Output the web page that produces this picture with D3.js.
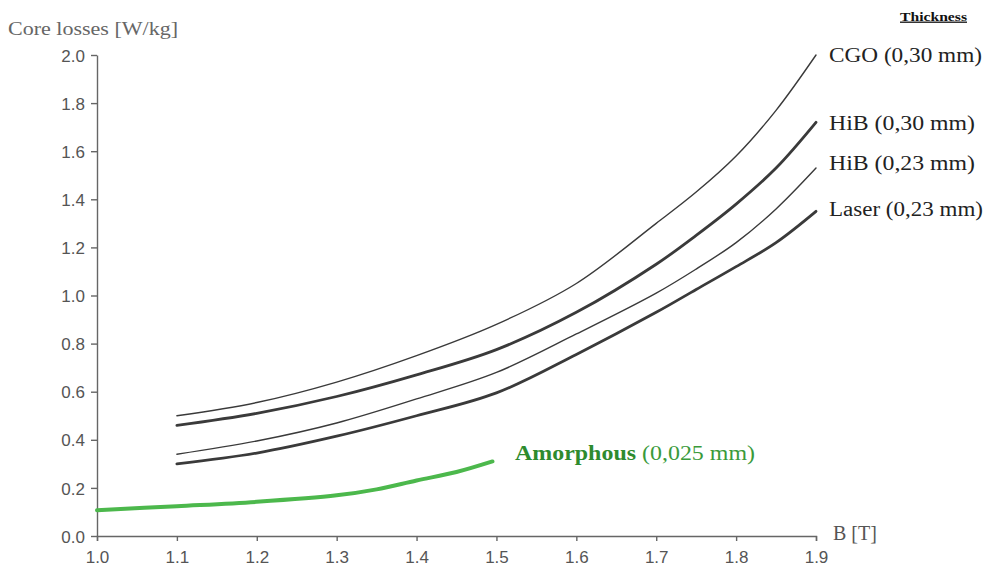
<!DOCTYPE html>
<html>
<head>
<meta charset="utf-8">
<script src="https://cdn.jsdelivr.net/npm/d3@7"></script>
<style>
body { margin: 0; background: #fff; }
svg { display: block; }
.tick text { font-family: 'Liberation Sans', Arial, sans-serif; font-size: 17px; fill: #555; }
.domain, .tick line { stroke: #666; stroke-width: 1.4; }
.serif { font-family: 'Liberation Serif', 'Times New Roman', serif; }
</style>
</head>
<body>
<div id="chart"></div>
<script>
var B = [1.1, 1.2, 1.3, 1.4, 1.5, 1.6, 1.7, 1.75, 1.8, 1.85, 1.9]
var cgo30 = [0.50, 0.555, 0.64, 0.75, 0.88, 1.05, 1.30, 1.43, 1.58, 1.77, 2.0]
var hib30 = [0.46, 0.51, 0.58, 0.67, 0.775, 0.93, 1.13, 1.25, 1.38, 1.53, 1.72]
var hib23 = [0.34, 0.395, 0.47, 0.57, 0.68, 0.84, 1.01, 1.11, 1.22, 1.36, 1.53]
var laser23 = [0.30, 0.345, 0.415, 0.50, 0.595, 0.755, 0.93, 1.025, 1.12, 1.22, 1.35]

var amorphB = [1.0, 1.1, 1.2, 1.3, 1.35, 1.4, 1.45, 1.495]
var amorph = [0.107, 0.124, 0.142, 0.169, 0.194, 0.231, 0.266, 0.31]

var xTicks = [1.0, 1.1, 1.2, 1.3, 1.4, 1.5, 1.6, 1.7, 1.8, 1.9]
var yTicks = [0.0, 0.2, 0.4, 0.6, 0.8, 1.0, 1.2, 1.4, 1.6, 1.8, 2.0]

var series = [
	{name: 'CGO (0,30 mm)',   values: cgo30,   w: 1.4, ly: 55,  len: 153},
	{name: 'HiB (0,30 mm)',   values: hib30,   w: 2.8, ly: 123, len: 146},
	{name: 'HiB (0,23 mm)',   values: hib23,   w: 1.4, ly: 163, len: 146},
	{name: 'Laser (0,23 mm)', values: laser23, w: 2.8, ly: 209, len: 154}
]

var W = 994, H = 579
var x = d3.scaleLinear().domain([1.0, 1.9]).range([97, 816])
var y = d3.scaleLinear().domain([0, 2.0]).range([536, 55])

var svg = d3.select('#chart').append('svg')
	.attr('width', W)
	.attr('height', H)

svg.append('g')
	.attr('transform', 'translate(0,' + y(0) + ')')
	.call(d3.axisBottom(x).tickValues(xTicks).tickFormat(d3.format('.1f'))
		.tickSize(5).tickSizeOuter(5).tickPadding(10))

svg.append('g')
	.attr('transform', 'translate(' + x(1.0) + ',0)')
	.call(d3.axisLeft(y).tickValues(yTicks).tickFormat(d3.format('.1f'))
		.tickSize(6).tickSizeOuter(0).tickPadding(6))
	.selectAll('.tick text').attr('dy', '0.36em')

var line = d3.line().curve(d3.curveCatmullRom.alpha(0.5))

series.forEach((s,i,a)=>{
	svg.append('path')
		.attr('d', line(B.map((b,j)=>[x(b), y(s.values[j])])))
		.attr('fill', 'none')
		.attr('stroke', '#3a3a3a')
		.attr('stroke-width', s.w)
		.attr('stroke-linecap', 'round')
	svg.append('text')
		.attr('class', 'serif')
		.attr('x', 829)
		.attr('y', s.ly)
		.attr('dy', '0.35em')
		.attr('font-size', 20)
		.attr('fill', '#222')
		.attr('textLength', s.len)
		.attr('lengthAdjust', 'spacingAndGlyphs')
		.text(s.name)
})

svg.append('path')
	.attr('d', line(amorphB.map((b,j)=>[x(b), y(amorph[j])])))
	.attr('fill', 'none')
	.attr('stroke', '#4cb84c')
	.attr('stroke-width', 4)
	.attr('stroke-linecap', 'round')

var am = svg.append('text')
	.attr('class', 'serif')
	.attr('x', 515)
	.attr('y', 453)
	.attr('dy', '0.35em')
	.attr('font-size', 20)
	.attr('fill', '#2e8b2e')
	.attr('textLength', 240)
	.attr('lengthAdjust', 'spacingAndGlyphs')
am.append('tspan').attr('font-weight', 'bold').text('Amorphous')
am.append('tspan').attr('fill', '#3a9a3a').text(' (0,025 mm)')

svg.append('text')
	.attr('class', 'serif')
	.attr('x', 8)
	.attr('y', 28)
	.attr('dy', '0.35em')
	.attr('font-size', 19)
	.attr('fill', '#666')
	.attr('textLength', 170)
	.attr('lengthAdjust', 'spacingAndGlyphs')
	.text('Core losses [W/kg]')

svg.append('text')
	.attr('class', 'serif')
	.attr('x', 833)
	.attr('y', 533)
	.attr('dy', '0.35em')
	.attr('font-size', 20)
	.attr('fill', '#555')
	.text('B [T]')

svg.append('text')
	.attr('class', 'serif')
	.attr('x', 900)
	.attr('y', 16)
	.attr('dy', '0.35em')
	.attr('font-size', 13)
	.attr('font-weight', 'bold')
	.attr('fill', '#111')
	.attr('text-decoration', 'underline')
	.attr('textLength', 67)
	.attr('lengthAdjust', 'spacingAndGlyphs')
	.text('Thickness')
</script>
</body>
</html>
